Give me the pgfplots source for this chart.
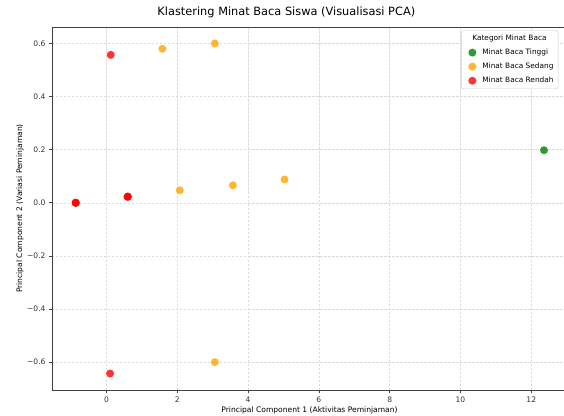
\documentclass[border=0pt]{standalone}
\usepackage{pgfplots}
\pgfplotsset{compat=1.18}
\usepackage{fontspec}
\setmainfont{DejaVu Sans}
\definecolor{cgreen}{RGB}{0,128,0}
\definecolor{corange}{RGB}{255,165,0}
\definecolor{cred}{RGB}{255,0,0}
\pgfplotstableread{
x y
12.36 0.198
}\tinggi
\pgfplotstableread{
x y
1.58 0.580
3.06 0.600
2.07 0.047
3.57 0.066
5.03 0.088
3.06 -0.600
}\sedang
\pgfplotstableread{
x y
0.12 0.557
-0.87 0.000
-0.87 0.000
-0.87 0.000
0.60 0.023
0.60 0.023
0.60 0.023
0.10 -0.643
}\rendah
\begin{document}
\begin{tikzpicture}
\begin{axis}[
  scale only axis, width=515bp, height=363bp,
  xmin=-1.54, xmax=13.01, ymin=-0.705, ymax=0.662,
  xtick={0,2,4,6,8,10,12}, xticklabels={0,2,4,6,8,10,12},
  ytick={-0.6,-0.4,-0.2,0,0.2,0.4,0.6},
  yticklabels={−0.6,−0.4,−0.2,0.0,0.2,0.4,0.6},
  tick label style={font=\fontsize{7.6}{9}\selectfont, text=black!80},
  tick align=outside, tick pos=left, major tick length=3bp,
  tick style={black!75, line width=0.6pt},
  grid=major, grid style={dash pattern=on 2.5bp off 1.5bp, black!14, line width=0.5pt},
  axis line style={black!75, line width=0.8pt},
  title={Klastering Minat Baca Siswa (Visualisasi PCA)},
  title style={at={(rel axis cs:0.455,1)}, anchor=south, yshift=0bp, font=\fontsize{11.4}{13}\selectfont},
  xlabel={Principal Component 1 (Aktivitas Peminjaman)},
  ylabel={Principal Component 2 (Variasi Peminjaman)},
  label style={font=\fontsize{7.6}{9}\selectfont},
  xlabel style={at={(rel axis cs:0.5,0)}, anchor=center, yshift=-20bp},
  ylabel style={at={(rel axis cs:0,0.5)}, anchor=center, yshift=32bp},
  legend style={at={(rel axis cs:0.983,0.991)}, anchor=north east, draw=black!20,
    rounded corners=2bp, font=\fontsize{7.4}{9}\selectfont, row sep=3bp,
    inner sep=2.5bp},
  legend cell align=left,
]
\addlegendimage{empty legend}
\addlegendentry{\hspace{-6bp}Kategori Minat Baca}
\addplot[only marks, mark=*, mark size=4bp, color=cgreen,
  mark options={fill=cgreen, fill opacity=0.8, draw opacity=0}] table {\tinggi};
\addlegendentry{\hspace{4bp}Minat Baca Tinggi}
\addplot[only marks, mark=*, mark size=4bp, color=corange,
  mark options={fill=corange, fill opacity=0.8, draw opacity=0}] table {\sedang};
\addlegendentry{\hspace{4bp}Minat Baca Sedang}
\addplot[only marks, mark=*, mark size=4bp, color=cred,
  mark options={fill=cred, fill opacity=0.8, draw opacity=0}] table {\rendah};
\addlegendentry{\hspace{4bp}Minat Baca Rendah}
\end{axis}
\pgfresetboundingbox
\path[use as bounding box] ([shift={(-52bp,-26bp)}]current axis.south west) rectangle ([shift={(512bp,390bp)}]current axis.south west);
\end{tikzpicture}
\end{document}
